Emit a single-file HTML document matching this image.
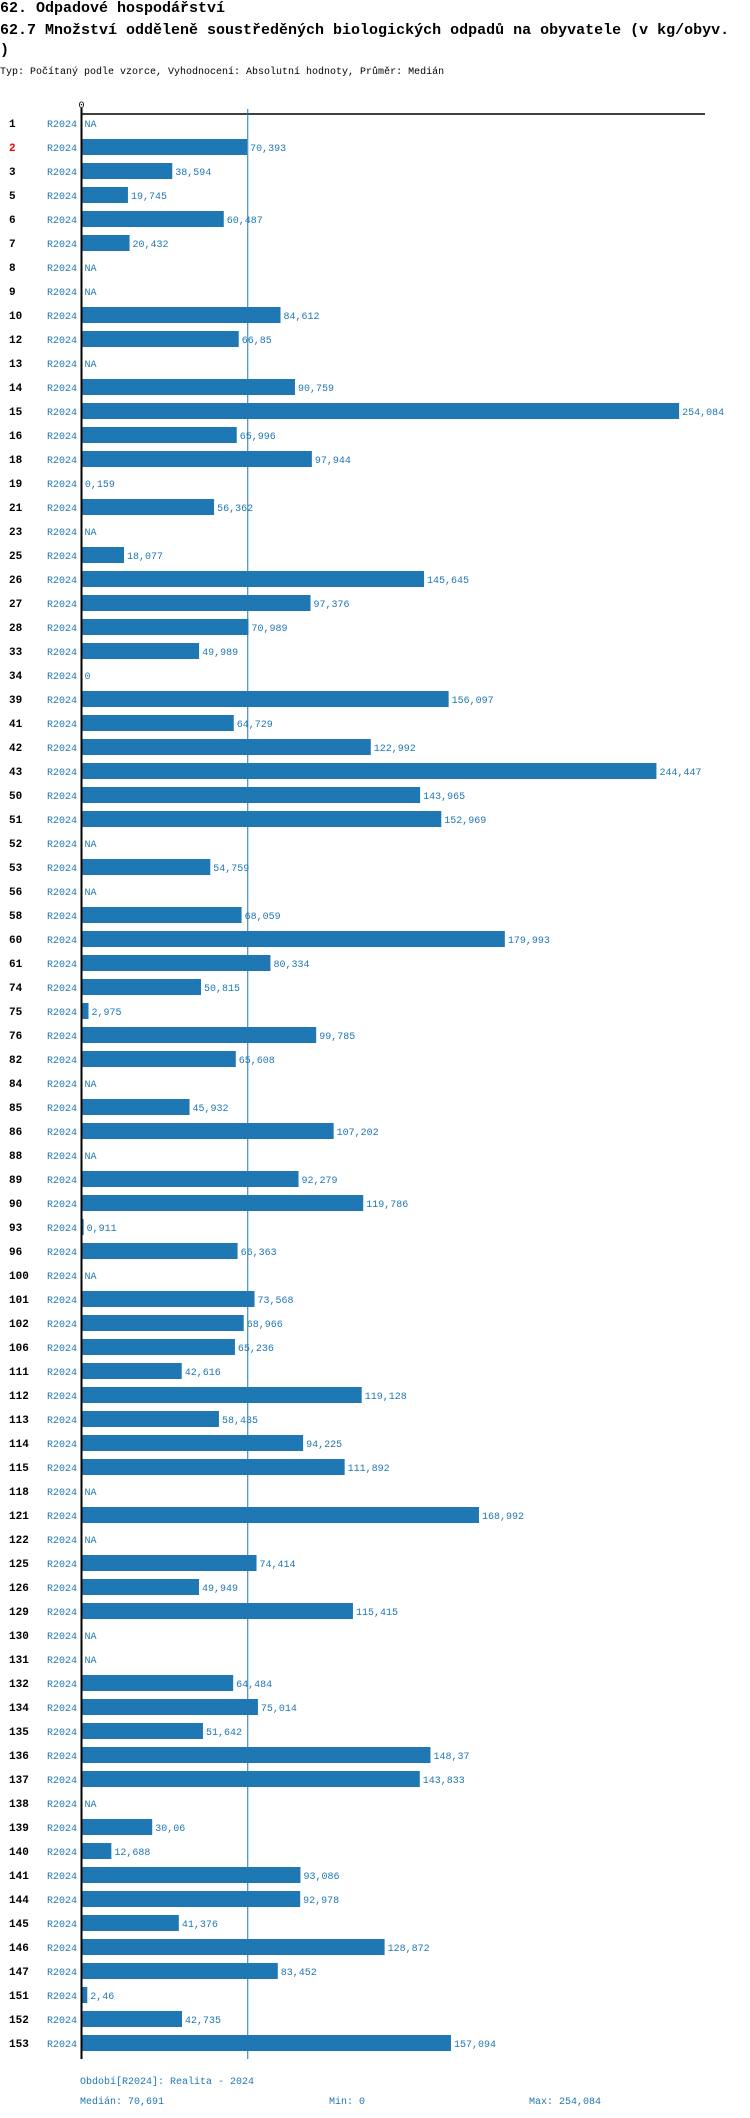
<!DOCTYPE html>
<html><head><meta charset="utf-8">
<style>
body{margin:0;background:#fff;width:750px;height:2118px;overflow:hidden;font-family:"Liberation Mono",monospace;}
.t{position:absolute;left:0;white-space:nowrap;color:#000}
</style></head>
<body>
<div class="t" style="top:0;font-size:15px;line-height:18px;font-weight:bold">62. Odpadové hospodářství</div>
<div class="t" style="top:22px;font-size:15px;line-height:18px;font-weight:bold">62.7 Množství odděleně soustředěných biologických odpadů na obyvatele (v kg/obyv.</div>
<div class="t" style="top:42px;font-size:15px;line-height:18px;font-weight:bold">)</div>
<div class="t" style="top:66px;font-size:10px;line-height:14px">Typ: Počítaný podle vzorce, Vyhodnocení: Absolutní hodnoty, Průměr: Medián</div>
<svg id="chart" width="750" height="2118" style="position:absolute;left:0;top:0" font-family="Liberation Mono, monospace"></svg>
<script>
const categories=["1","2","3","5","6","7","8","9","10","12","13","14","15","16","18","19","21","23","25","26","27","28","33","34","39","41","42","43","50","51","52","53","56","58","60","61","74","75","76","82","84","85","86","88","89","90","93","96","100","101","102","106","111","112","113","114","115","118","121","122","125","126","129","130","131","132","134","135","136","137","138","139","140","141","144","145","146","147","151","152","153"];
const values=[null,70.393,38.594,19.745,60.487,20.432,null,null,84.612,66.85,null,90.759,254.084,65.996,97.944,0.159,56.362,null,18.077,145.645,97.376,70.989,49.989,0,156.097,64.729,122.992,244.447,143.965,152.969,null,54.759,null,68.059,179.993,80.334,50.815,2.975,99.785,65.608,null,45.932,107.202,null,92.279,119.786,0.911,66.363,null,73.568,68.966,65.236,42.616,119.128,58.435,94.225,111.892,null,168.992,null,74.414,49.949,115.415,null,null,64.484,75.014,51.642,148.37,143.833,null,30.06,12.688,93.086,92.978,41.376,128.872,83.452,2.46,42.735,157.094];
const periods=["R2024"];
const median=70.691, minV=0, maxV=254.084;
const highlighted="2";
const svg=document.getElementById('chart');
const NS='http://www.w3.org/2000/svg';
const X0=81.5, K=2.352, Y0=123, PITCH=24, BLUE='#1f77b4';
const x=v=>X0+v*K, y=i=>Y0+i*PITCH;
const fmt=v=>String(v).replace('.',',');
function mk(tag,attrs){const e=document.createElementNS(NS,tag);for(const k in attrs)e.setAttribute(k,attrs[k]);svg.appendChild(e);return e;}
const yEnd=y(categories.length-1)+16;
let e;
e=mk('line',{x1:X0,x2:705,y1:114,y2:114,stroke:'#000','stroke-width':1.5});


e=mk('text',{x:X0-3,y:108,'font-size':10,fill:'#000'});e.textContent='0';


e=mk('line',{x1:x(median),x2:x(median),y1:109,y2:yEnd,stroke:BLUE,'stroke-width':1});


categories.forEach((c,i)=>{
  const cy=y(i);
  let t=mk('text',{x:9,y:cy+4,'font-size':11,'font-weight':'bold',fill:c===highlighted?'#f00':'#000'});t.textContent=c;
  
  
  t=mk('text',{x:47,y:cy+4,'font-size':10,fill:BLUE});t.textContent=periods[0];
  
  
  const v=values[i];
  if(v===null){
    t=mk('text',{x:X0+3,y:cy+4,'font-size':10,fill:BLUE});t.textContent='NA';
    
    
  } else {
    const w=v*K;
    if(w>0){const b=mk('rect',{x:X0,y:cy-8,width:w,height:16,fill:BLUE});
      
      }
    t=mk('text',{x:x(v)+3,y:cy+4,'font-size':10,fill:BLUE});t.textContent=fmt(v);
    
    
  }
});
e=mk('line',{x1:X0,x2:X0,y1:108,y2:yEnd,stroke:'#000','stroke-width':2});


e=mk('text',{x:80,y:2084,'font-size':10,fill:BLUE});e.textContent='Období[R2024]: Realita - 2024';


e=mk('text',{x:80,y:2104,'font-size':10,fill:BLUE});e.textContent='Medián: '+fmt(median);


e=mk('text',{x:329,y:2104,'font-size':10,fill:BLUE});e.textContent='Min: '+fmt(minV);


e=mk('text',{x:529,y:2104,'font-size':10,fill:BLUE});e.textContent='Max: '+fmt(maxV);


</script>
</body></html>
